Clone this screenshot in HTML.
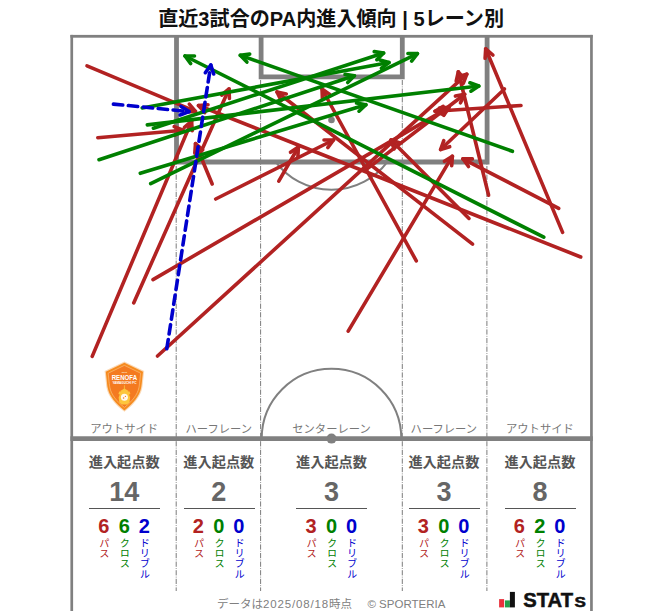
<!DOCTYPE html>
<html lang="ja"><head><meta charset="utf-8"><title>直近3試合のPA内進入傾向</title>
<style>
html,body{margin:0;padding:0;background:#fff}
#c{position:relative;width:663px;height:611px;overflow:hidden;background:#fff;font-family:"Liberation Sans","Noto Sans CJK JP",sans-serif}
#c svg{position:absolute;left:0;top:0}
#c div{position:absolute;white-space:nowrap}
.title{left:-0.4px;width:663px;top:4.5px;text-align:center;font-size:20.1px;font-weight:bold;color:#111;line-height:28px}
.ln{width:100px;text-align:center;top:420.8px;font-size:11.3px;line-height:16px;color:#777}
.hd{width:100px;text-align:center;top:450.9px;font-size:14.2px;line-height:22px;font-weight:bold;color:#555}
.tot{width:100px;text-align:center;top:475px;font-size:27px;line-height:34px;font-weight:bold;color:#666}
.ul{top:507.5px;width:71px;height:1.3px;background:#555}
.sv{width:20px;text-align:center;top:512.8px;font-size:20px;line-height:26px;font-weight:bold}
.sl{width:14px;top:538px;font-size:10.2px;line-height:14px;writing-mode:vertical-rl;letter-spacing:0}
.ft{left:217px;top:596px;font-size:11.5px;line-height:16px;color:#808080}
</style></head><body>
<div id="c">
<svg width="663" height="611" viewBox="0 0 663 611">
<!-- pitch -->
<g fill="none" stroke="#808080">
<g stroke="#5a5a5a" stroke-width="0.8" stroke-dasharray="5.2 1.3 0.8 1.3">
<path d="M176.2 37V591"/><path d="M260.6 37V591"/><path d="M402.3 37V591"/><path d="M486.9 37V591"/>
</g>
<rect x="70.4" y="34.9" width="2.7" height="580" fill="#808080" stroke="none"/>
<rect x="590.1" y="34.9" width="2.7" height="580" fill="#808080" stroke="none"/>
<rect x="70.4" y="34.9" width="522.2" height="2.8" fill="#808080" stroke="none"/>
<path d="M176.5 36V162H487.1V36" stroke-width="4.8"/>
<path d="M261.1 36V76.9H402.3V36" stroke-width="4.8"/>
<path d="M70.4 438.6H592.8" stroke-width="4.6"/>
<circle cx="331.5" cy="120" r="3.3" fill="#808080" stroke="none"/>
<circle cx="331.5" cy="438.6" r="5" fill="#808080" stroke="none"/>
<path d="M261.7 438.6A69.8 69.8 0 0 1 401.3 438.6" stroke-width="2"/>
<path d="M275.8 162.1A69.8 69.8 0 0 0 387.2 162.1" stroke-width="2"/>

</g>
<!-- emblem -->
<g>
<path d="M124.4 361.6L144.2 371L143.2 380C142.8 384 142.6 386 142.2 388C140.6 396.5 134 404.5 124.4 411.8C114.8 404.5 108.2 396.5 106.6 388C106.2 386 106 384 105.6 380L104.6 371Z" fill="#fbd9b5"/>
<path d="M124.4 362.8L143 371.7L142.1 380C141.7 384 141.5 386 141.1 387.8C139.6 395.8 133.4 403.4 124.4 410.4C115.4 403.4 109.2 395.8 107.7 387.8C107.3 386 107.1 384 106.7 380L105.8 371.7Z" fill="#f68b1f"/>
<path d="M124.4 365.4L140.6 373.2L139.8 381C139.4 384.6 139.2 386.2 138.9 387.6C137.6 394.6 132.2 401.2 124.4 407.4C116.6 401.2 111.2 394.6 109.9 387.6C109.6 386.2 109.4 384.6 109 381L108.2 373.2Z" fill="#f47a20" stroke="#fcc488" stroke-width="0.6"/>
<path d="M124.4 385.3V389" stroke="#fdc63c" stroke-width="0.8"/>
<path d="M120.2 391L124.4 388.6L128.6 391L127.6 391.6H129.6L130.4 394L129 394.4L130.2 397.5L129.4 402.5L127 404.6H121.8L119.4 402.5L118.6 397.5L119.8 394.4L118.4 394L119.2 391.6H121.2Z" fill="#fdc63c"/>
<circle cx="124.4" cy="397.2" r="3.5" fill="#fff8ee"/>
<circle cx="123.6" cy="398" r="0.8" fill="#f47a20"/><circle cx="125.4" cy="396.4" r="0.6" fill="#f47a20"/>
<text x="124.4" y="372.6" font-size="2.4" font-weight="bold" fill="#fde3c4" text-anchor="middle" font-family="Liberation Sans, sans-serif">2006</text>
<text x="124.4" y="380.2" font-size="6.6" font-weight="bold" fill="#fff" text-anchor="middle" textLength="25.4" lengthAdjust="spacingAndGlyphs" font-family="Liberation Sans, sans-serif">RENOFA</text>
<text x="124.4" y="383.9" font-size="2.7" font-weight="bold" fill="#fff" text-anchor="middle" textLength="24" lengthAdjust="spacingAndGlyphs" font-family="Liberation Sans, sans-serif">YAMAGUCHI FC</text>
</g>
<!-- arrows -->
<path d="M87.0 65.8L195.5 111.4" stroke="#b22222" stroke-width="3.6" fill="none" stroke-linecap="round"/><path d="M186.0 112.0L195.5 111.4L189.3 104.2" stroke="#b22222" stroke-width="3.6" fill="none" stroke-linecap="round" stroke-linejoin="round"/>
<path d="M97.8 137.7L183.0 130.2" stroke="#b22222" stroke-width="3.6" fill="none" stroke-linecap="round"/><path d="M174.9 135.2L183.0 130.2L174.2 126.7" stroke="#b22222" stroke-width="3.6" fill="none" stroke-linecap="round" stroke-linejoin="round"/>
<path d="M92.2 356.4L191.6 121.2" stroke="#b22222" stroke-width="3.6" fill="none" stroke-linecap="round"/><path d="M192.2 130.7L191.6 121.2L184.4 127.4" stroke="#b22222" stroke-width="3.6" fill="none" stroke-linecap="round" stroke-linejoin="round"/>
<path d="M133.7 302.9L229.0 89.0" stroke="#b22222" stroke-width="3.6" fill="none" stroke-linecap="round"/><path d="M229.4 98.5L229.0 89.0L221.7 95.0" stroke="#b22222" stroke-width="3.6" fill="none" stroke-linecap="round" stroke-linejoin="round"/>
<path d="M153.0 279.6L449.0 107.4" stroke="#b22222" stroke-width="3.6" fill="none" stroke-linecap="round"/><path d="M443.8 115.3L449.0 107.4L439.5 108.0" stroke="#b22222" stroke-width="3.6" fill="none" stroke-linecap="round" stroke-linejoin="round"/>
<path d="M157.5 356.0L466.8 74.2" stroke="#b22222" stroke-width="3.6" fill="none" stroke-linecap="round"/><path d="M463.4 83.1L466.8 74.2L457.7 76.8" stroke="#b22222" stroke-width="3.6" fill="none" stroke-linecap="round" stroke-linejoin="round"/>
<path d="M215.7 199.0L333.5 140.0" stroke="#b22222" stroke-width="3.6" fill="none" stroke-linecap="round"/><path d="M327.8 147.6L333.5 140.0L324.0 140.0" stroke="#b22222" stroke-width="3.6" fill="none" stroke-linecap="round" stroke-linejoin="round"/>
<path d="M212.2 184.0L195.5 143.7" stroke="#b22222" stroke-width="3.6" fill="none" stroke-linecap="round"/><path d="M202.7 149.9L195.5 143.7L194.8 153.2" stroke="#b22222" stroke-width="3.6" fill="none" stroke-linecap="round" stroke-linejoin="round"/>
<path d="M348.2 331.2L452.4 156.2" stroke="#b22222" stroke-width="3.6" fill="none" stroke-linecap="round"/><path d="M451.7 165.7L452.4 156.2L444.4 161.3" stroke="#b22222" stroke-width="3.6" fill="none" stroke-linecap="round" stroke-linejoin="round"/>
<path d="M278.8 181.2L298.4 147.0" stroke="#b22222" stroke-width="3.6" fill="none" stroke-linecap="round"/><path d="M297.9 156.5L298.4 147.0L290.5 152.3" stroke="#b22222" stroke-width="3.6" fill="none" stroke-linecap="round" stroke-linejoin="round"/>
<path d="M367.4 168.6L464.7 94.3" stroke="#b22222" stroke-width="3.6" fill="none" stroke-linecap="round"/><path d="M460.5 102.8L464.7 94.3L455.4 96.1" stroke="#b22222" stroke-width="3.6" fill="none" stroke-linecap="round" stroke-linejoin="round"/>
<path d="M416.3 260.9L322.0 89.0" stroke="#b22222" stroke-width="3.6" fill="none" stroke-linecap="round"/><path d="M329.8 94.4L322.0 89.0L322.4 98.5" stroke="#b22222" stroke-width="3.6" fill="none" stroke-linecap="round" stroke-linejoin="round"/>
<path d="M472.6 244.2L277.0 92.0" stroke="#b22222" stroke-width="3.6" fill="none" stroke-linecap="round"/><path d="M286.3 93.9L277.0 92.0L281.1 100.6" stroke="#b22222" stroke-width="3.6" fill="none" stroke-linecap="round" stroke-linejoin="round"/>
<path d="M469.0 218.4L391.0 140.0" stroke="#b22222" stroke-width="3.6" fill="none" stroke-linecap="round"/><path d="M400.0 143.0L391.0 140.0L394.0 149.0" stroke="#b22222" stroke-width="3.6" fill="none" stroke-linecap="round" stroke-linejoin="round"/>
<path d="M580.7 257.0L198.5 105.5" stroke="#b22222" stroke-width="3.6" fill="none" stroke-linecap="round"/><path d="M208.0 104.7L198.5 105.5L204.8 112.6" stroke="#b22222" stroke-width="3.6" fill="none" stroke-linecap="round" stroke-linejoin="round"/>
<path d="M521.0 105.5L435.0 111.2" stroke="#b22222" stroke-width="3.6" fill="none" stroke-linecap="round"/><path d="M443.2 106.4L435.0 111.2L443.8 114.9" stroke="#b22222" stroke-width="3.6" fill="none" stroke-linecap="round" stroke-linejoin="round"/>
<path d="M504.5 89.0L440.6 149.5" stroke="#b22222" stroke-width="3.6" fill="none" stroke-linecap="round"/><path d="M443.8 140.6L440.6 149.5L449.7 146.7" stroke="#b22222" stroke-width="3.6" fill="none" stroke-linecap="round" stroke-linejoin="round"/>
<path d="M562.6 232.4L485.7 48.8" stroke="#b22222" stroke-width="3.6" fill="none" stroke-linecap="round"/><path d="M492.9 55.0L485.7 48.8L485.1 58.3" stroke="#b22222" stroke-width="3.6" fill="none" stroke-linecap="round" stroke-linejoin="round"/>
<path d="M488.6 195.2L458.3 71.8" stroke="#b22222" stroke-width="3.6" fill="none" stroke-linecap="round"/><path d="M464.5 79.0L458.3 71.8L456.2 81.1" stroke="#b22222" stroke-width="3.6" fill="none" stroke-linecap="round" stroke-linejoin="round"/>
<path d="M558.7 208.3L462.9 158.8" stroke="#b22222" stroke-width="3.6" fill="none" stroke-linecap="round"/><path d="M472.4 158.9L462.9 158.8L468.5 166.5" stroke="#b22222" stroke-width="3.6" fill="none" stroke-linecap="round" stroke-linejoin="round"/>
<path d="M142.2 108.0L389.0 62.6" stroke="#008000" stroke-width="3.6" fill="none" stroke-linecap="round"/><path d="M381.4 68.3L389.0 62.6L379.9 60.0" stroke="#008000" stroke-width="3.6" fill="none" stroke-linecap="round" stroke-linejoin="round"/>
<path d="M147.3 124.9L478.8 86.0" stroke="#008000" stroke-width="3.6" fill="none" stroke-linecap="round"/><path d="M470.9 91.2L478.8 86.0L469.9 82.8" stroke="#008000" stroke-width="3.6" fill="none" stroke-linecap="round" stroke-linejoin="round"/>
<path d="M153.4 128.2L383.6 53.0" stroke="#008000" stroke-width="3.6" fill="none" stroke-linecap="round"/><path d="M376.8 59.7L383.6 53.0L374.2 51.6" stroke="#008000" stroke-width="3.6" fill="none" stroke-linecap="round" stroke-linejoin="round"/>
<path d="M99.0 159.7L354.4 75.8" stroke="#008000" stroke-width="3.6" fill="none" stroke-linecap="round"/><path d="M347.7 82.5L354.4 75.8L345.0 74.4" stroke="#008000" stroke-width="3.6" fill="none" stroke-linecap="round" stroke-linejoin="round"/>
<path d="M140.3 173.3L365.9 104.7" stroke="#008000" stroke-width="3.6" fill="none" stroke-linecap="round"/><path d="M359.0 111.2L365.9 104.7L356.5 103.1" stroke="#008000" stroke-width="3.6" fill="none" stroke-linecap="round" stroke-linejoin="round"/>
<path d="M150.7 183.7L417.4 53.6" stroke="#008000" stroke-width="3.6" fill="none" stroke-linecap="round"/><path d="M411.6 61.1L417.4 53.6L407.9 53.5" stroke="#008000" stroke-width="3.6" fill="none" stroke-linecap="round" stroke-linejoin="round"/>
<path d="M543.8 237.2L185.0 56.0" stroke="#008000" stroke-width="3.6" fill="none" stroke-linecap="round"/><path d="M194.5 56.0L185.0 56.0L190.7 63.6" stroke="#008000" stroke-width="3.6" fill="none" stroke-linecap="round" stroke-linejoin="round"/>
<path d="M512.4 151.3L240.3 55.3" stroke="#008000" stroke-width="3.6" fill="none" stroke-linecap="round"/><path d="M249.7 54.1L240.3 55.3L246.9 62.1" stroke="#008000" stroke-width="3.6" fill="none" stroke-linecap="round" stroke-linejoin="round"/>
<path d="M113.4 104.1L189.0 111.6" stroke="#0000cd" stroke-width="3.6" fill="none" stroke-linecap="round" stroke-dasharray="9.4 5.6"/><path d="M180.1 115.0L189.0 111.6L181.0 106.5" stroke="#0000cd" stroke-width="3.6" fill="none" stroke-linecap="round" stroke-linejoin="round"/>
<path d="M166.8 348.8L210.8 65.0" stroke="#0000cd" stroke-width="3.6" fill="none" stroke-linecap="round" stroke-dasharray="9.4 5.6"/><path d="M213.7 74.0L210.8 65.0L205.3 72.7" stroke="#0000cd" stroke-width="3.6" fill="none" stroke-linecap="round" stroke-linejoin="round"/>
<!-- stats logo -->
<rect x="499.1" y="599.1" width="5" height="8.3" fill="#e8323c"/>
<rect x="504.9" y="600.4" width="5" height="7" fill="#22a04a"/>
<rect x="509.9" y="591.9" width="5" height="15.5" fill="#111"/>
<text x="523.2" y="606.9" font-size="19.6" font-weight="bold" fill="#111" stroke="#111" stroke-width="0.5" textLength="49.8" lengthAdjust="spacingAndGlyphs" font-family="Liberation Sans, sans-serif">STAT</text>
<text x="574.4" y="606.9" font-size="14.4" font-weight="bold" fill="#111" stroke="#111" stroke-width="0.5" textLength="11.4" lengthAdjust="spacingAndGlyphs" font-family="Liberation Sans, sans-serif">S</text>
</svg>
<div class="title">直近3試合のPA内進入傾向 | 5レーン別</div>
<div class="ln" style="left:74.2px">アウトサイド</div>
<div class="hd" style="left:74.2px">進入起点数</div>
<div class="tot" style="left:74.2px">14</div>
<div class="ul" style="left:89.1px"></div>
<div class="sv" style="left:93.7px;color:#b22222">6</div><div class="sl" style="left:95.9px;color:#b22222">パス</div>
<div class="sv" style="left:114.2px;color:#008000">6</div><div class="sl" style="left:116.4px;color:#008000">クロス</div>
<div class="sv" style="left:134.2px;color:#0000cd">2</div><div class="sl" style="left:136.39999999999998px;color:#0000cd">ドリブル</div>
<div class="ln" style="left:168.8px">ハーフレーン</div>
<div class="hd" style="left:168.8px">進入起点数</div>
<div class="tot" style="left:168.8px">2</div>
<div class="ul" style="left:183.6px"></div>
<div class="sv" style="left:188.3px;color:#b22222">2</div><div class="sl" style="left:190.5px;color:#b22222">パス</div>
<div class="sv" style="left:208.8px;color:#008000">0</div><div class="sl" style="left:211.0px;color:#008000">クロス</div>
<div class="sv" style="left:228.8px;color:#0000cd">0</div><div class="sl" style="left:231.0px;color:#0000cd">ドリブル</div>
<div class="ln" style="left:281.5px">センターレーン</div>
<div class="hd" style="left:281.5px">進入起点数</div>
<div class="tot" style="left:281.5px">3</div>
<div class="ul" style="left:296.0px"></div>
<div class="sv" style="left:301.0px;color:#b22222">3</div><div class="sl" style="left:303.2px;color:#b22222">パス</div>
<div class="sv" style="left:321.5px;color:#008000">0</div><div class="sl" style="left:323.7px;color:#008000">クロス</div>
<div class="sv" style="left:341.5px;color:#0000cd">0</div><div class="sl" style="left:343.7px;color:#0000cd">ドリブル</div>
<div class="ln" style="left:393.9px">ハーフレーン</div>
<div class="hd" style="left:393.9px">進入起点数</div>
<div class="tot" style="left:393.9px">3</div>
<div class="ul" style="left:408.8px"></div>
<div class="sv" style="left:413.4px;color:#b22222">3</div><div class="sl" style="left:415.59999999999997px;color:#b22222">パス</div>
<div class="sv" style="left:433.9px;color:#008000">0</div><div class="sl" style="left:436.09999999999997px;color:#008000">クロス</div>
<div class="sv" style="left:453.9px;color:#0000cd">0</div><div class="sl" style="left:456.09999999999997px;color:#0000cd">ドリブル</div>
<div class="ln" style="left:489.9px">アウトサイド</div>
<div class="hd" style="left:489.9px">進入起点数</div>
<div class="tot" style="left:489.9px">8</div>
<div class="ul" style="left:505.1px"></div>
<div class="sv" style="left:509.4px;color:#b22222">6</div><div class="sl" style="left:511.59999999999997px;color:#b22222">パス</div>
<div class="sv" style="left:529.9px;color:#008000">2</div><div class="sl" style="left:532.1px;color:#008000">クロス</div>
<div class="sv" style="left:549.9px;color:#0000cd">0</div><div class="sl" style="left:552.1px;color:#0000cd">ドリブル</div>

<div class="ft">データは<span style="letter-spacing:0.85px">2025/08/18</span>時点<span style="margin-left:15.4px">© SPORTERIA</span></div>
</div>
</body></html>
